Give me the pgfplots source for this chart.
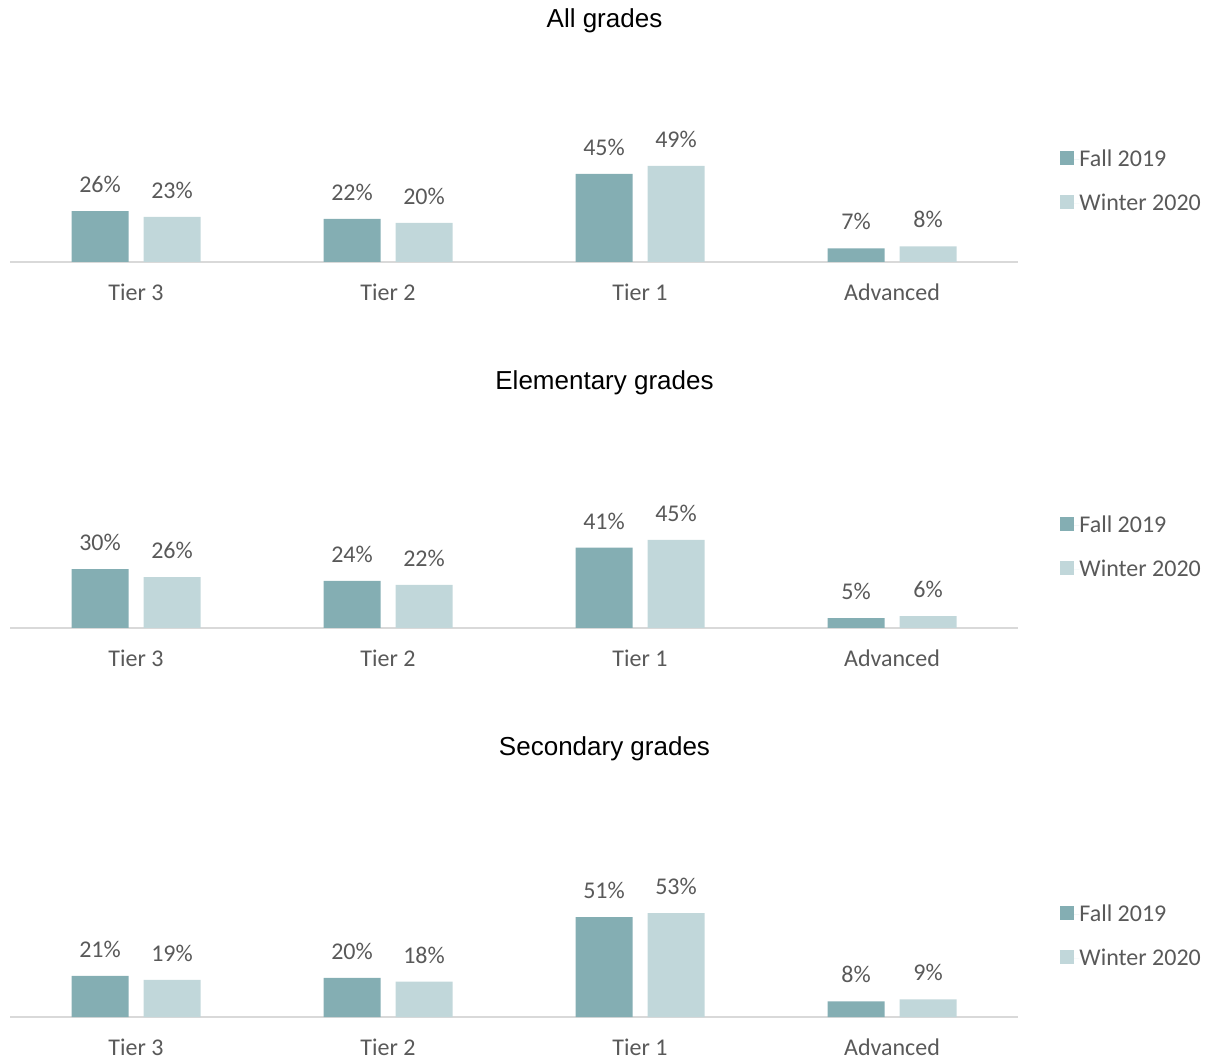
\documentclass[border=0pt]{standalone}
\usepackage{pgfplots}
\pgfplotsset{compat=1.18}
\usepackage{fontspec}
\setmainfont{Carlito}
\newfontfamily\titlefont{Liberation Sans}

\definecolor{fallc}{HTML}{84AEB3}
\definecolor{winc}{HTML}{C1D7DA}
\definecolor{txt}{HTML}{595959}
\definecolor{axc}{HTML}{D9D9D9}

% one panel: four tiers, two terms side by side
\pgfplotsset{
  tierpanel/.style={
    x=126pt, y=0.98pt,
    xmin=-0.5, xmax=3.5, ymin=0, ymax=60,
    ybar=7.5pt, bar width=28.5pt,
    axis x line*=bottom, axis y line=none,
    x axis line style={draw=axc, line width=1pt, -},
    xtick={0,1,2,3},
    xticklabels={Tier 3, Tier 2, Tier 1, Advanced},
    major tick length=0pt,
    ytick=\empty,
    clip=false,
    /pgf/number format/assume math mode=true,
    font=\fontsize{12}{14}\selectfont,
    xticklabel style={text=txt, anchor=base, inner sep=0pt, yshift=-19.25pt},
    nodes near coords={\pgfmathprintnumber{\pgfplotspointmeta}\%},
    nodes near coords style={text=txt, anchor=base, inner sep=0pt, yshift=9.25pt},
    legend style={draw=none, fill=none, inner sep=0pt,
      at={(rel axis cs:1.0417,0.6845)}, anchor=west,
      font=\fontsize{12}{14}\selectfont, text=txt,
      nodes={inner sep=0pt}, row sep=12.3pt},
    legend cell align=left,
    legend image code/.code={%
      \fill[##1,draw=none] (0pt,-2.6pt) rectangle (7pt,4.4pt);
      \path (0pt,0pt) -- (9.5pt,0pt);},
  },
  fallbar/.style={fill=fallc, draw=none},
  winbar/.style={fill=winc, draw=none},
}

\pgfplotstableread{
cat fall winter
0   26   23
1   22   20
2   45   49
3   7    8
}\allgrades
\pgfplotstableread{
cat fall winter
0   30   26
1   24   22
2   41   45
3   5    6
}\elemgrades
\pgfplotstableread{
cat fall winter
0   21   19
1   20   18
2   51   53
3   8    9
}\secgrades

\begin{document}
\begin{tikzpicture}
\useasboundingbox (0pt,0pt) rectangle (604.5pt,530.5pt);

\node[font=\titlefont\fontsize{13}{15}\selectfont, anchor=base, inner sep=0pt] at (302.25pt,516.85pt) {All grades};
\begin{axis}[tierpanel, at={(68pt,399.5pt)}, anchor=origin]
  \addplot[fallbar] table[x=cat, y=fall] {\allgrades};
  \addplot[winbar] table[x=cat, y=winter] {\allgrades};
  \legend{Fall 2019, Winter 2020}
\end{axis}

\node[font=\titlefont\fontsize{13}{15}\selectfont, anchor=base, inner sep=0pt] at (302.25pt,335.5pt) {Elementary grades};
\begin{axis}[tierpanel, at={(68pt,216.5pt)}, anchor=origin]
  \addplot[fallbar] table[x=cat, y=fall] {\elemgrades};
  \addplot[winbar] table[x=cat, y=winter] {\elemgrades};
  \legend{Fall 2019, Winter 2020}
\end{axis}

\node[font=\titlefont\fontsize{13}{15}\selectfont, anchor=base, inner sep=0pt] at (302.25pt,153pt) {Secondary grades};
\begin{axis}[tierpanel, at={(68pt,22pt)}, anchor=origin]
  \addplot[fallbar] table[x=cat, y=fall] {\secgrades};
  \addplot[winbar] table[x=cat, y=winter] {\secgrades};
  \legend{Fall 2019, Winter 2020}
\end{axis}
\end{tikzpicture}
\end{document}
